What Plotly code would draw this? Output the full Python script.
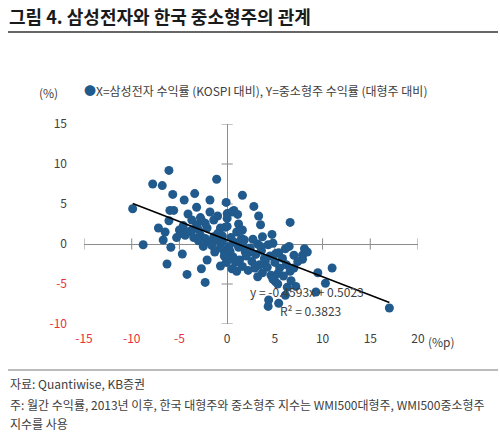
import plotly.graph_objects as go

# ---- data ----
points = [
    (-9.9, 4.4), (-8.8, -0.1), (-7.8, 7.5), (-6.8, 7.3), (-6.1, 9.2), (-5.7, 6.2), (-6.0, 4.2), (-5.6, 4.2),
    (-6.1, 2.9), (-7.2, 2.0), (-6.5, 1.5), (-6.7, 0.5), (-5.9, -0.4), (-6.3, -2.5), (-4.7, -1.25),
    (-4.2, -3.8), (-2.7, -3.1), (-2.1, -2.0), (-2.3, -4.8), (-4.5, 5.5), (-3.4, 6.3), (-1.8, 5.5), (-1.1, 8.1),
    (-0.1, 5.2), (-3.2, 4.6), (-4.1, 3.75), (-1.8, 4.0), (-2.8, 3.3), (-3.7, 3.0), (-1.0, 3.5), (0.0, 3.2),
    (0.5, 4.0), (-5.0, 1.75), (-4.2, 1.5), (-3.2, 2.4), (-2.7, 3.0), (-2.1, 2.0), (-1.4, 3.0), (-0.7, 2.0),
    (-0.2, 2.1), (-4.9, 1.3), (-4.4, 1.1), (-4.1, 1.5), (-3.7, 1.75), (-2.8, 1.1), (-2.3, 0.7), (-2.0, 0.3),
    (-1.4, 0.9), (-1.1, 0.5), (-3.5, 0.8), (-3.0, 0.4), (-1.6, -0.2), (-0.5, 0.3), (-0.4, -0.75), (-0.7, -0.4),
    (-0.1, -1.2), (0.3, -0.9), (-0.7, -2.75), (-0.1, -2.3), (0.5, -3.1),
    (1.6, 6.1), (0.7, 4.2), (1.1, 3.7), (0.0, 3.8), (2.8, 4.7), (3.3, 3.5), (6.6, 2.7), (1.2, 2.5), (3.5, 2.4),
    (0.0, 2.2), (1.6, 1.75), (1.0, 1.5), (4.7, 1.2), (3.7, 0.9), (1.5, 0.7), (1.8, 0.5), (3.2, 0.0), (4.3, -0.1),
    (4.8, 0.1), (8.1, -0.6), (6.1, -0.6), (5.4, -1.1), (7.0, -1.4), (7.9, -1.4), (2.4, -0.5), (1.9, -1.0),
    (8.4, -1.0), (7.9, -1.9), (0.4, 0.8), (0.8, 0.2), (0.2, -0.3), (1.2, -0.4),
    (11.0, -3.0), (9.5, -3.6), (10.3, -4.9), (9.3, -6.0), (17.0, -8.0), (6.3, -5.4), (7.2, -5.3), (5.05, -4.7),
    (5.3, -5.0), (4.35, -7.0), (4.3, -7.8), (5.4, -7.4), (6.1, -6.4), (6.7, -4.6),
    (0.6, -1.6), (1.3, -2.0), (2.0, -1.5), (2.6, -2.2), (3.0, -1.3), (3.4, -2.6), (3.9, -1.8), (4.2, -2.9),
    (4.5, -1.5), (5.0, -2.3), (5.5, -3.0), (5.8, -1.8), (6.2, -2.6), (6.6, -3.4), (2.2, -3.3), (1.6, -2.8),
    (2.9, -3.0), (3.7, -3.6), (4.6, -3.9), (5.3, -3.7), (5.9, -4.0), (2.5, -1.0), (3.6, -0.8), (4.0, -2.2),
    (1.0, -3.4), (0.9, -2.3), (5.1, -1.2), (6.5, -0.3), (7.4, -2.2), (7.0, -3.0), (4.8, -4.4), (3.2, -4.1),
    (0.3, -1.9), (-0.3, -1.5), (1.6, -0.1), (2.7, 0.6), (3.5, -0.3), (-1.3, -1.0), (-2.5, -0.3), (-3.0, 1.8),
    (-2.3, 2.6), (-1.0, 1.3), (-0.5, 1.0), (-4.6, 2.3), (-5.3, 0.8),
]
x_vals = [p[0] for p in points]
y_vals = [p[1] for p in points]

slope = -0.4593
intercept = 0.5023
r2 = 0.3823

x_ticks = [-15, -10, -5, 0, 5, 10, 15, 20]
y_ticks = [-10, -5, 0, 5, 10, 15]

title_text = "그림 4. 삼성전자와 한국 중소형주의 관계"
legend_text = "X=삼성전자 수익률 (KOSPI 대비), Y=중소형주 수익률 (대형주 대비)"
source_lines = [
    "자료: Quantiwise, KB증권",
    "주: 월간 수익률, 2013년 이후, 한국 대형주와 중소형주 지수는 WMI500대형주, WMI500중소형주",
    "지수를 사용",
]

# ---- styling ----
W, H = 500, 433
L, R, T, B = 84, 82, 124, 109
PW, PH = W - L - R, H - T - B
FONT = "Noto Sans CJK KR"
BLUE = "#215A8C"
GREY_TXT = "#404040"
RED = "#E8303A"
AXIS = "#8C8C8C"


def px2x(px):
    return (px - L) / PW


def py2y(py):
    return (H - B - py) / PH


def tick_label(v):
    if v < 0:
        return f"<span style='color:{RED}'>{v}</span>"
    return str(v)


fig = go.Figure()

# axis cross ticks
fig.add_trace(go.Scatter(x=x_ticks, y=[0] * len(x_ticks), mode="markers",
                         marker=dict(symbol="line-ns", size=8, line=dict(color=AXIS, width=1)),
                         showlegend=False, hoverinfo="skip"))
fig.add_trace(go.Scatter(x=[0] * len(y_ticks), y=y_ticks, mode="markers",
                         marker=dict(symbol="line-ew", size=8, line=dict(color=AXIS, width=1)),
                         showlegend=False, hoverinfo="skip"))

# scatter
fig.add_trace(go.Scatter(x=x_vals, y=y_vals, mode="markers",
                         marker=dict(color=BLUE, size=9, line=dict(width=0)),
                         showlegend=False))

# trendline
xmin, xmax = min(x_vals), max(x_vals)
fig.add_trace(go.Scatter(x=[xmin, xmax], y=[slope * xmin + intercept, slope * xmax + intercept],
                         mode="lines", line=dict(color="black", width=1.6), showlegend=False))

fig.update_xaxes(range=[-15, 20], tickvals=x_ticks, ticktext=[tick_label(v) for v in x_ticks],
                 showgrid=False, showline=False, zeroline=True, zerolinecolor=AXIS, zerolinewidth=1,
                 ticks="", ticklabelstandoff=6, tickfont=dict(family=FONT, size=12, color=GREY_TXT))
fig.update_yaxes(range=[-10, 15], tickvals=y_ticks, ticktext=[tick_label(v) for v in y_ticks],
                 showgrid=False, showline=False, zeroline=True, zerolinecolor=AXIS, zerolinewidth=1,
                 ticks="", ticklabelstandoff=16, tickfont=dict(family=FONT, size=12, color=GREY_TXT))

ann = []
ann.append(dict(x=px2x(7), y=py2y(16), xref="paper", yref="paper", xanchor="left", yanchor="middle",
                text=f"<b>{title_text}</b>", showarrow=False,
                font=dict(family=FONT, size=18, color="#1a1a1a")))
ann.append(dict(x=px2x(48), y=py2y(92), xref="paper", yref="paper", xanchor="center", yanchor="middle",
                text="(%)", showarrow=False, font=dict(family=FONT, size=12, color=GREY_TXT)))
ann.append(dict(x=px2x(82), y=py2y(90), xref="paper", yref="paper", xanchor="left", yanchor="middle",
                text=f"<span style='color:{BLUE}'>●</span>{legend_text}", showarrow=False,
                font=dict(family=FONT, size=12, color=GREY_TXT)))
ann.append(dict(x=px2x(442), y=py2y(341), xref="paper", yref="paper", xanchor="center", yanchor="middle",
                text="(%p)", showarrow=False, font=dict(family=FONT, size=12, color=GREY_TXT)))
ann.append(dict(x=2.2, y=-5.9, xref="x", yref="y", xanchor="left", yanchor="middle",
                text=f"y = {slope}x + {intercept}", showarrow=False,
                font=dict(family=FONT, size=12, color=GREY_TXT)))
ann.append(dict(x=5.3, y=-8.3, xref="x", yref="y", xanchor="left", yanchor="middle",
                text=f"R² = {r2}", showarrow=False,
                font=dict(family=FONT, size=12, color=GREY_TXT)))
for i, (line, py) in enumerate(zip(source_lines, [383, 404, 423])):
    ann.append(dict(x=px2x(8), y=py2y(py), xref="paper", yref="paper", xanchor="left", yanchor="middle",
                    text=line, showarrow=False, font=dict(family=FONT, size=12, color=GREY_TXT)))

shapes = [
    dict(type="line", xref="paper", yref="paper", x0=px2x(8), x1=px2x(498), y0=py2y(32), y1=py2y(32),
         line=dict(color="#333333", width=1.5)),
    dict(type="line", xref="paper", yref="paper", x0=px2x(8), x1=px2x(498), y0=py2y(370), y1=py2y(370),
         line=dict(color="#555555", width=0.8)),
]

fig.update_layout(width=W, height=H, autosize=False, margin=dict(l=L, r=R, t=T, b=B),
                  paper_bgcolor="white", plot_bgcolor="white", showlegend=False,
                  annotations=ann, shapes=shapes, font=dict(family=FONT))

fig.write_html("out.html")
